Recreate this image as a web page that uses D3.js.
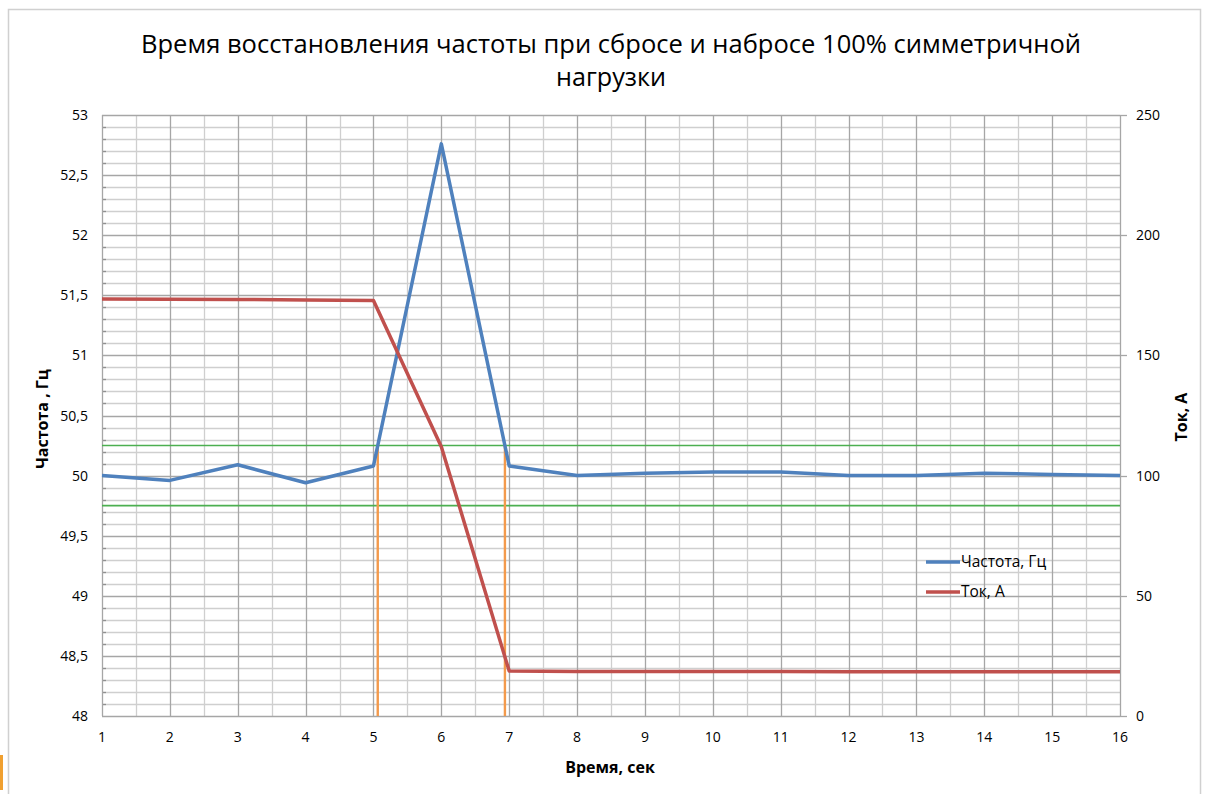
<!DOCTYPE html>
<html>
<head>
<meta charset="utf-8">
<script src="https://cdn.jsdelivr.net/npm/d3@7"></script>
<style>
  html, body { margin: 0; padding: 0; background: #fff; }
  svg { display: block; }
  text { font-family: "Open Sans", "DejaVu Sans", sans-serif; fill: #000; }
</style>
</head>
<body>
<svg id="chart" width="1206" height="794"></svg>
<script>
// ---- data ----
const timeSec = [1, 2, 3, 4, 5, 6, 7, 8, 9, 10, 11, 12, 13, 14, 15, 16];
const frequencyHz = [50.0, 49.96, 50.09, 49.94, 50.08, 52.76, 50.08, 50.0, 50.02, 50.03, 50.03, 50.0, 50.0, 50.02, 50.01, 50.0];
const currentA = [173.5, 173.4, 173.3, 173.0, 172.8, 112.0, 18.7, 18.5, 18.5, 18.5, 18.5, 18.4, 18.4, 18.4, 18.4, 18.4];
const toleranceBand = [50.25, 49.75];
const recoveryMarks = [5.063, 6.937];
const xTicks = [1, 2, 3, 4, 5, 6, 7, 8, 9, 10, 11, 12, 13, 14, 15, 16];
const yLeftTicks = [48, 48.5, 49, 49.5, 50, 50.5, 51, 51.5, 52, 52.5, 53];
const yRightTicks = [0, 50, 100, 150, 200, 250];
const titleLines = ["Время восстановления частоты при сбросе и набросе 100% симметричной", "нагрузки"];
const seriesNames = ["Частота, Гц", "Ток, А"];

// ---- layout ----
const svg = d3.select("#chart");
const L = 102, R = 1120, T = 115, B = 716;
const x = d3.scaleLinear().domain([1, 16]).range([L, R]);
const yL = d3.scaleLinear().domain([48, 53]).range([B, T]);
const yR = d3.scaleLinear().domain([0, 250]).range([B, T]);
const fmt = d => String(d).replace('.', ',');

// frame
svg.append("rect").attr("x", 8.5).attr("y", 9.5).attr("width", 1192).attr("height", 800)
  .attr("fill", "none").attr("stroke", "#d0d0d0").attr("stroke-width", 1.5);
svg.append("rect").attr("x", 0).attr("y", 755).attr("width", 3).attr("height", 35).attr("fill", "#f0a030");

// title
titleLines.forEach((t, i) => {
  svg.append("text").attr("x", 611).attr("y", 53 + i * 33).attr("text-anchor", "middle")
    .attr("font-size", 25).attr("textLength", i === 0 ? 940 : 110).attr("lengthAdjust", "spacingAndGlyphs")
    .text(t);
});

const grid = svg.append("g");
// minor horizontal
d3.range(0, 51).forEach(i => {
  const v = 48 + i * 0.1;
  if (i % 5 === 0) return;
  grid.append("line").attr("x1", L).attr("x2", R).attr("y1", Math.round(yL(v)) + 0.5).attr("y2", Math.round(yL(v)) + 0.5)
    .attr("stroke", "#cfcfcf").attr("stroke-width", 1.3);
  grid.append("line").attr("x1", L).attr("x2", L + 4).attr("y1", Math.round(yL(v)) + 0.5).attr("y2", Math.round(yL(v)) + 0.5)
    .attr("stroke", "#909090").attr("stroke-width", 1.3);
});
// minor vertical
d3.range(1.5, 16, 1).forEach(v => {
  grid.append("line").attr("y1", T).attr("y2", B).attr("x1", Math.round(x(v)) + 0.5).attr("x2", Math.round(x(v)) + 0.5)
    .attr("stroke", "#cfcfcf").attr("stroke-width", 1.3);
});
// major horizontal
yLeftTicks.forEach(v => {
  grid.append("line").attr("x1", L).attr("x2", R).attr("y1", Math.round(yL(v)) + 0.5).attr("y2", Math.round(yL(v)) + 0.5)
    .attr("stroke", "#a6a6a6").attr("stroke-width", 1.3);
});
// major vertical
xTicks.forEach(v => {
  grid.append("line").attr("y1", T).attr("y2", B).attr("x1", Math.round(x(v)) + 0.5).attr("x2", Math.round(x(v)) + 0.5)
    .attr("stroke", "#a6a6a6").attr("stroke-width", 1.3);
});
// right axis ticks
yRightTicks.forEach(v => {
  grid.append("line").attr("x1", R).attr("x2", R + 7).attr("y1", Math.round(yR(v)) + 0.5).attr("y2", Math.round(yR(v)) + 0.5)
    .attr("stroke", "#a6a6a6").attr("stroke-width", 1.3);
});

// tick labels
svg.append("g").selectAll("text").data(yLeftTicks).join("text")
  .attr("x", 88).attr("y", d => yL(d) + 5).attr("text-anchor", "end").attr("font-size", 14).text(fmt);
svg.append("g").selectAll("text").data(yRightTicks).join("text")
  .attr("x", 1136).attr("y", d => yR(d) + 5).attr("text-anchor", "start").attr("font-size", 14).text(fmt);
svg.append("g").selectAll("text").data(xTicks).join("text")
  .attr("x", d => x(d)).attr("y", 742).attr("text-anchor", "middle").attr("font-size", 14).text(fmt);

// axis titles
svg.append("text").attr("transform", "translate(48,419) rotate(-90)").attr("text-anchor", "middle")
  .attr("font-size", 16).attr("font-weight", "bold").text("Частота , Гц");
svg.append("text").attr("transform", "translate(1187,417) rotate(-90)").attr("text-anchor", "middle")
  .attr("font-size", 16).attr("font-weight", "bold").text("Ток, А");
svg.append("text").attr("x", 610).attr("y", 773).attr("text-anchor", "middle")
  .attr("font-size", 16).attr("font-weight", "bold").text("Время, сек");

// tolerance band
toleranceBand.forEach(v => {
  svg.append("line").attr("x1", L).attr("x2", R).attr("y1", yL(v)).attr("y2", yL(v))
    .attr("stroke", "#4caf50").attr("stroke-width", 1.6);
});
// recovery marks
recoveryMarks.forEach(v => {
  svg.append("line").attr("x1", x(v)).attr("x2", x(v)).attr("y1", yL(48)).attr("y2", yL(toleranceBand[0]))
    .attr("stroke", "#f39a4c").attr("stroke-width", 2.4);
});

// series
const freqLine = d3.line().x((d, i) => x(timeSec[i])).y(d => yL(d));
const curLine = d3.line().x((d, i) => x(timeSec[i])).y(d => yR(d));
svg.append("path").datum(frequencyHz).attr("d", freqLine).attr("fill", "none")
  .attr("stroke", "#4f81bd").attr("stroke-width", 3.5).attr("stroke-linejoin", "round");
svg.append("path").datum(currentA).attr("d", curLine).attr("fill", "none")
  .attr("stroke", "#c0504d").attr("stroke-width", 3.5).attr("stroke-linejoin", "round");

// legend
const legendColors = ["#4f81bd", "#c0504d"];
seriesNames.forEach((n, i) => {
  const ly = 562 + i * 30;
  svg.append("line").attr("x1", 926).attr("x2", 960).attr("y1", ly).attr("y2", ly)
    .attr("stroke", legendColors[i]).attr("stroke-width", 3.5);
  svg.append("text").attr("x", 961).attr("y", ly + 5).attr("font-size", 15.5).text(n);
});
</script>
</body>
</html>
